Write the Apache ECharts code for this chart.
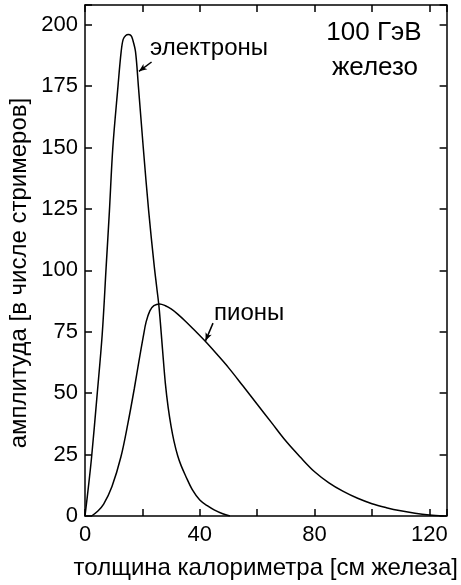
<!DOCTYPE html>
<html><head><meta charset="utf-8">
<script src="https://cdn.jsdelivr.net/npm/echarts@6/dist/echarts.min.js"></script>
<style>html,body{margin:0;padding:0;background:#fff}#c{width:461px;height:585px}</style>
</head><body><div id="c"></div>
<script>
// --- data ---
const electronX = [0, 1.2, 2.3, 4.2, 6.0, 7.4, 8.5, 9.7, 11.5, 12.6, 13.3, 14.2, 15.1, 16.0, 16.6, 17.6, 18.6, 20.3, 22.2, 24.1, 25.0, 25.8, 27.0, 28.0, 29.0, 30.0, 31.0, 32.3, 33.5, 35.0, 37.5, 40.0, 42.6, 45.0, 48.0, 50.5];
const electronY = [0, 12, 24, 49, 74, 102, 124, 150, 175, 189, 194, 195.6, 196, 195.6, 194, 189, 175, 150, 124, 102, 93, 85, 68, 54, 44, 36.5, 30.5, 24.5, 20.5, 16.5, 10.5, 6.5, 4.2, 2.5, 0.9, 0];
const pionX = [2.3, 4.5, 6.5, 9.4, 12.5, 15.0, 17.2, 18.8, 20.3, 21.3, 22.6, 24.0, 26.0, 28.0, 30.0, 32.3, 35.0, 38.0, 42.0, 46.0, 50.0, 55.0, 60.0, 65.0, 70.0, 75.0, 80.0, 85.0, 90.0, 95.0, 100.0, 105.0, 110.0, 115.0, 120.0, 125.0];
const pionY = [0, 2, 4.8, 12, 24, 38, 52, 63, 73, 79, 83.5, 85.6, 86.3, 85.6, 84.3, 82.2, 79.3, 75.8, 71, 65.8, 60.4, 53, 45.5, 38, 30.5, 24, 18, 13.5, 10, 7.2, 5, 3.4, 2.1, 1.1, 0.4, 0];
const xTickLabels = [0, 40, 80, 120];
const yTickLabels = [0, 25, 50, 75, 100, 125, 150, 175, 200];
const seriesNames = ['электроны', 'пионы'];
const xAxisTitle = 'толщина калориметра [см железа]';
const yAxisTitle = 'амплитуда [в числе стримеров]';
const infoLines = ['100 ГэВ', 'железо'];

const FONT = "'Liberation Sans', Arial, sans-serif";
const BLACK = '#000';
const chart = echarts.init(document.getElementById('c'), null, {renderer: 'canvas'});

const axisLine = {show: true, onZero: false, lineStyle: {color: BLACK, width: 1.5}};
const tick = {show: true, inside: true, length: 7, lineStyle: {color: BLACK, width: 1.5}};

function pairs(xs, ys) { return xs.map((x, i) => [x, ys[i]]); }

chart.setOption({
  animation: false,
  backgroundColor: '#fff',
  textStyle: {fontFamily: FONT},
  grid: {left: 85, right: 8, top: 5, bottom: 65, containLabel: false},
  xAxis: [
    {type: 'value', min: 0, max: 126, interval: 20, position: 'bottom',
     axisLine, axisTick: tick, splitLine: {show: false},
     axisLabel: {color: BLACK, fontSize: 22, fontFamily: FONT, margin: 8,
                 formatter: v => xTickLabels.includes(v) ? String(v) : ''},
     name: xAxisTitle, nameLocation: 'middle', nameGap: 40,
     nameTextStyle: {color: BLACK, fontSize: 24, fontFamily: FONT}},
    {type: 'value', min: 0, max: 126, interval: 20, position: 'top',
     axisLine, axisTick: tick, splitLine: {show: false}, axisLabel: {show: false}}
  ],
  yAxis: [
    {type: 'value', min: 0, max: 208, interval: 25, position: 'left',
     axisLine, axisTick: tick, splitLine: {show: false},
     axisLabel: {color: BLACK, fontSize: 22, fontFamily: FONT, margin: 7,
                 formatter: v => yTickLabels.includes(v) ? String(v) : ''}},
    {type: 'value', min: 0, max: 208, interval: 25, position: 'right',
     axisLine, axisTick: tick, splitLine: {show: false}, axisLabel: {show: false}}
  ],
  series: [
    {name: seriesNames[0], type: 'line', data: pairs(electronX, electronY),
     showSymbol: false, smooth: 0.35, lineStyle: {color: BLACK, width: 1.5},
     markLine: {silent: true, symbol: ['none', 'arrow'], symbolSize: [5, 8],
       lineStyle: {color: BLACK, width: 1.5, type: 'solid'}, label: {show: false},
       data: [[{coord: [23.2, 184.8]}, {coord: [18.8, 181]}]]}},
    {name: seriesNames[1], type: 'line', data: pairs(pionX, pionY),
     showSymbol: false, smooth: 0.35, lineStyle: {color: BLACK, width: 1.5},
     markLine: {silent: true, symbol: ['none', 'arrow'], symbolSize: [5, 8],
       lineStyle: {color: BLACK, width: 1.5, type: 'solid'}, label: {show: false},
       data: [[{coord: [44.6, 78.5]}, {coord: [42.0, 71.3]}]]}}
  ],
  graphic: [
    {type: 'text', left: 150, top: 36, style: {text: seriesNames[0], fill: BLACK, font: '24px ' + FONT}},
    {type: 'text', left: 214, top: 301, style: {text: seriesNames[1], fill: BLACK, font: '24px ' + FONT}},
    {type: 'text', x: 374, y: 33, style: {text: infoLines[0], fill: BLACK, font: '26px ' + FONT, align: 'center', verticalAlign: 'middle'}},
    {type: 'text', x: 375, y: 68, style: {text: infoLines[1], fill: BLACK, font: '26px ' + FONT, align: 'center', verticalAlign: 'middle'}},
    {type: 'text', x: 19, y: 273, rotation: Math.PI / 2,
     style: {text: yAxisTitle, fill: BLACK, font: '24px ' + FONT, align: 'center', verticalAlign: 'middle'}}
  ]
});
</script>
</body></html>
